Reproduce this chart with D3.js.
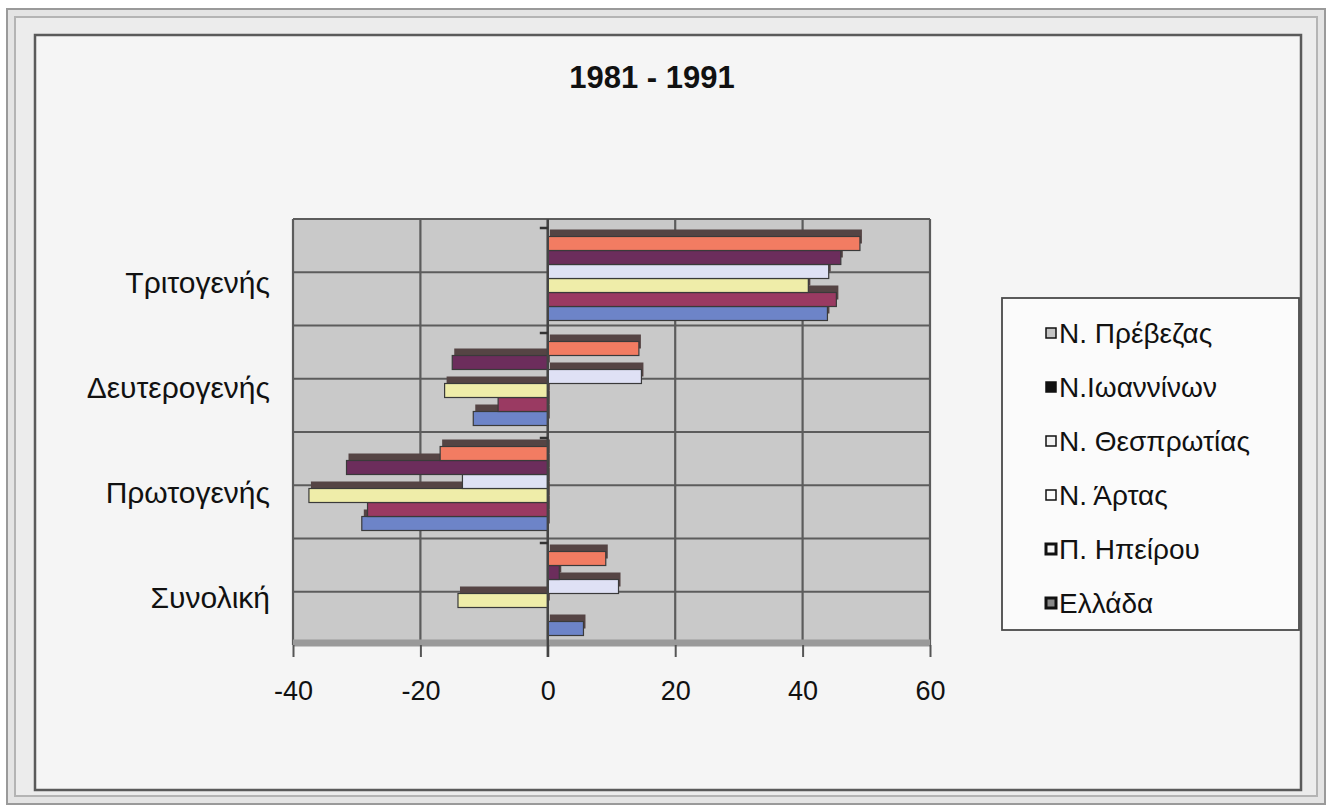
<!DOCTYPE html>
<html>
<head>
<meta charset="utf-8">
<script src="https://cdn.jsdelivr.net/npm/d3@7"></script>
<style>
  html, body { margin: 0; padding: 0; background: #ffffff; }
  svg { display: block; }
  text { font-family: "Liberation Sans", Arial, sans-serif; fill: #111; }
</style>
</head>
<body>
<svg id="chart" width="1332" height="806"></svg>
<script>
// ---------------- data ----------------
const title = "1981 - 1991";
const categories = ["Τριτογενής", "Δευτερογενής", "Πρωτογενής", "Συνολική"];
const seriesNames = ["Ν. Πρέβεζας", "Ν.Ιωαννίνων", "Ν. Θεσπρωτίας", "Ν. Άρτας", "Π. Ηπείρου", "Ελλάδα"];
const prevezas    = [43.9, -11.7, -29.2, 5.6];
const ioanninon   = [45.3, -7.8, -28.3, 0];
const thesprotias = [40.9, -16.2, -37.5, -14.1];
const artas       = [44.1, 14.7, -13.4, 11.1];
const ipeirou     = [46.0, -15.0, -31.6, 1.8];
const ellada      = [49.0, 14.3, -16.9, 9.1];
const xTicks = [-40, -20, 0, 20, 40, 60];

const seriesValues = [prevezas, ioanninon, thesprotias, artas, ipeirou, ellada];
const barColors = ["#6d84c8", "#9a3a62", "#efeda9", "#dfe1f5", "#6c2d5c", "#f27c62"];
// legend swatches as they appear (greyscale) in the reference
const swatchFill = ["#c4c4c4", "#111111", "#f2f2f2", "#fbfbfb", "#f6f6f6", "#8a8a8a"];
const swatchStrokeW = [1.5, 1.5, 1.5, 1.5, 3, 3];

// ---------------- layout ----------------
const svg = d3.select("#chart");
const plot = { left: 293, right: 930, top: 219, bottom: 645 };

// frame / background
svg.append("rect").attr("x", 0).attr("y", 0).attr("width", 1332).attr("height", 806).attr("fill", "#ffffff");
svg.append("rect").attr("x", 7).attr("y", 9).attr("width", 1318).attr("height", 795)
  .attr("fill", "#e4e4e4").attr("stroke", "#9a9a9a").attr("stroke-width", 2);
svg.append("rect").attr("x", 15).attr("y", 17).attr("width", 1302).attr("height", 779)
  .attr("fill", "#ececec").attr("stroke", "#b4b4b4").attr("stroke-width", 2);
svg.append("rect").attr("x", 35).attr("y", 35).attr("width", 1266).attr("height", 755)
  .attr("fill", "#f5f5f5").attr("stroke", "#5a5a5a").attr("stroke-width", 2.5);

// scales
const x = d3.scaleLinear().domain([-40, 60]).range([plot.left, plot.right]);
const y = d3.scaleBand().domain(categories).range([226, 646]);
const ySeries = d3.scaleBand().domain(seriesNames.slice().reverse())
  .range([10.5, y.bandwidth() - 10.5]);
const yGrid = d3.scaleLinear().domain([0, 8]).range([plot.top, plot.bottom]);

// plot area
svg.append("rect").attr("x", plot.left).attr("y", plot.top)
  .attr("width", plot.right - plot.left).attr("height", plot.bottom - plot.top)
  .attr("fill", "#c9c9c9");

// horizontal grid lines
svg.append("g").selectAll("line").data(d3.range(0, 9)).join("line")
  .attr("x1", plot.left).attr("x2", plot.right)
  .attr("y1", d => yGrid(d)).attr("y2", d => yGrid(d))
  .attr("stroke", "#5c5c5c").attr("stroke-width", 2.2);

// vertical grid lines
svg.append("g").selectAll("line").data(xTicks).join("line")
  .attr("x1", d => x(d)).attr("x2", d => x(d))
  .attr("y1", plot.top).attr("y2", plot.bottom)
  .attr("stroke", "#5c5c5c").attr("stroke-width", 2.2);

// bottom band
svg.append("line").attr("x1", plot.left).attr("x2", plot.right)
  .attr("y1", plot.bottom - 2).attr("y2", plot.bottom - 2)
  .attr("stroke", "#9a9a9a").attr("stroke-width", 7);

// x axis
const xAxis = d3.axisBottom(x).tickValues(xTicks).tickSize(12).tickPadding(24)
  .tickFormat(d => d);
const gx = svg.append("g").attr("transform", `translate(0,${plot.bottom})`).call(xAxis);
gx.select(".domain").remove();
gx.selectAll(".tick line").attr("stroke", "#555").attr("stroke-width", 2);
gx.selectAll(".tick text").attr("font-size", 27).attr("fill", "#111")
  .attr("font-family", "Liberation Sans, Arial, sans-serif");

// bars (series 1 drawn first, at the bottom of each group), each with a dark drop shadow
seriesNames.forEach((name, s) => {
  const data = categories.map((c, i) => ({ c, v: seriesValues[s][i] }));
  const g = svg.append("g");
  g.selectAll("rect.shadow").data(data).join("rect").attr("class", "shadow")
    .attr("x", d => Math.min(x(0), x(d.v)) + 2)
    .attr("y", d => y(d.c) + ySeries(name) - 7)
    .attr("width", d => Math.abs(x(d.v) - x(0)))
    .attr("height", ySeries.bandwidth())
    .attr("fill", "#554444");
  g.selectAll("rect.bar").data(data).join("rect").attr("class", "bar")
    .attr("x", d => Math.min(x(0), x(d.v)))
    .attr("y", d => y(d.c) + ySeries(name))
    .attr("width", d => Math.abs(x(d.v) - x(0)))
    .attr("height", ySeries.bandwidth())
    .attr("fill", barColors[s])
    .attr("stroke", d => d.v === 0 ? "none" : "#3a3a3a").attr("stroke-width", 1.2);
});

// category axis at zero
svg.append("line").attr("x1", x(0)).attr("x2", x(0))
  .attr("y1", plot.top).attr("y2", plot.bottom + 12)
  .attr("stroke", "#444").attr("stroke-width", 2.4);
svg.append("g").selectAll("line").data(categories).join("line")
  .attr("x1", x(0) - 8).attr("x2", x(0))
  .attr("y1", d => y(d) + 2).attr("y2", d => y(d) + 2)
  .attr("stroke", "#333").attr("stroke-width", 2.5);

// category labels
svg.append("g").selectAll("text").data(categories).join("text")
  .attr("x", 270).attr("y", d => y(d) + y.bandwidth() / 2 + 4)
  .attr("text-anchor", "end").attr("dominant-baseline", "central")
  .attr("font-size", 30).text(d => d);

// title
svg.append("text").attr("x", 652).attr("y", 88).attr("text-anchor", "middle")
  .attr("font-size", 31).attr("font-weight", "bold")
  .attr("font-family", "Liberation Sans Narrow, Liberation Sans, Arial, sans-serif")
  .text(title);

// legend
const legend = { x: 1002, y: 298, w: 297, h: 332 };
svg.append("rect").attr("x", legend.x).attr("y", legend.y)
  .attr("width", legend.w).attr("height", legend.h)
  .attr("fill", "#fbfbfb").attr("stroke", "#4a4a4a").attr("stroke-width", 1.8);
const ly = d3.scalePoint().domain(seriesNames).range([333, 603]);
const li = svg.append("g").selectAll("g").data(seriesNames).join("g")
  .attr("transform", d => `translate(${legend.x + 44},${ly(d)})`);
li.append("rect").attr("x", 0).attr("y", -5).attr("width", 10).attr("height", 10)
  .attr("fill", (d, i) => swatchFill[i]).attr("stroke", "#111")
  .attr("stroke-width", (d, i) => swatchStrokeW[i]);
li.append("text").attr("x", 13).attr("y", 0).attr("dominant-baseline", "central")
  .attr("font-size", 28).text(d => d);
</script>
</body>
</html>
